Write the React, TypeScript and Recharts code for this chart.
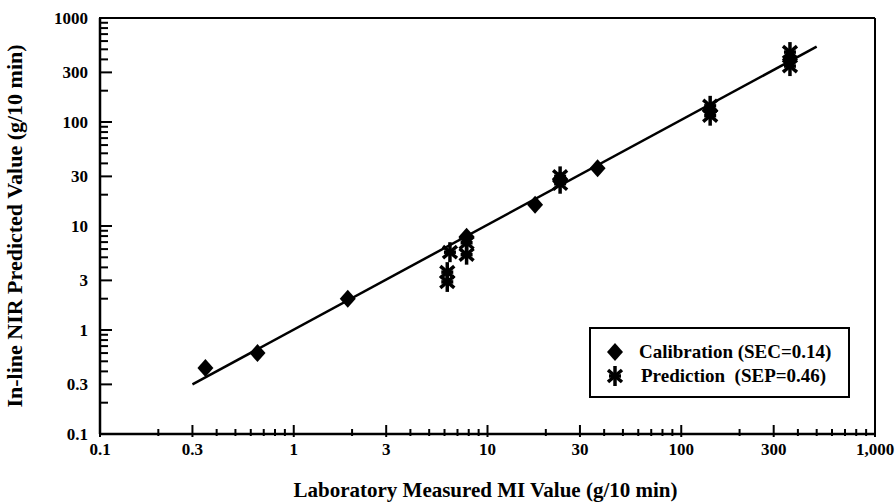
import React from "react"
import {
  ScatterChart,
  Scatter,
  XAxis,
  YAxis,
  ReferenceLine,
  Legend,
} from "recharts"

// values
const calX = [0.35, 0.65, 1.9, 7.8, 17.6, 23.7, 37, 141, 364]
const calY = [0.43, 0.6, 2.0, 7.9, 16, 28, 36, 128, 400]

const predX = [6.2, 6.2, 6.4, 7.8, 7.8, 23.7, 23.7, 141, 141, 364, 364]
const predY = [3.6, 2.9, 5.6, 6.9, 5.3, 30, 25.5, 143, 115, 470, 345]

const fitX = [0.3, 500]
const fitY = [0.3, 530]

const majorTicks = [0.1, 0.3, 1, 3, 10, 30, 100, 300, 1000]
const xTickLabels = ["0.1", "0.3", "1", "3", "10", "30", "100", "300", "1,000"]
const yTickLabels = ["0.1", "0.3", "1", "3", "10", "30", "100", "300", "1000"]
const decades = [0.1, 1, 10, 100]
const minorSteps = [2, 4, 5, 6, 7, 8, 9]

const allTicks = [...majorTicks, ...decades.flatMap((d) => minorSteps.map((m) => m * d))].sort(
  (a, b) => a - b
)

const calData = calX.map((x, i) => ({ x, y: calY[i] }))
const predData = predX.map((x, i) => ({ x, y: predY[i] }))
const fitData = fitX.map((x, i) => ({ x, y: fitY[i] }))

const FONT = "'Liberation Serif', 'Times New Roman', serif"

const majorIndex = (v: number) => majorTicks.findIndex((t) => Math.abs(t - v) / t < 1e-6)

const XTick = (props: any) => {
  const { x, y, payload } = props
  const idx = majorIndex(payload.value)
  const major = idx >= 0
  return (
    <g>
      <line x1={x} x2={x} y1={y - (major ? 9 : 5)} y2={y + (major ? 3 : 2)} stroke="#000" strokeWidth={2} />
      {major && (
        <text x={x} y={y + 21} textAnchor="middle" fontFamily={FONT} fontWeight="bold" fontSize={17} fill="#000">
          {xTickLabels[idx]}
        </text>
      )}
    </g>
  )
}

const YTick = (props: any) => {
  const { x, y, payload } = props
  const idx = majorIndex(payload.value)
  const major = idx >= 0
  return (
    <g>
      <line x1={x - 1} x2={x + (major ? 12 : 8)} y1={y} y2={y} stroke="#000" strokeWidth={2} />
      {major && (
        <text x={x - 12} y={y + 6} textAnchor="end" fontFamily={FONT} fontWeight="bold" fontSize={17} fill="#000">
          {yTickLabels[idx]}
        </text>
      )}
    </g>
  )
}

const Diamond = (props: any) => {
  const { cx, cy } = props
  return <polygon points={`${cx},${cy - 9} ${cx + 8},${cy} ${cx},${cy + 9} ${cx - 8},${cy}`} fill="#000" />
}

const Star = (props: any) => {
  const { cx, cy } = props
  return (
    <g stroke="#000" strokeWidth={3.5}>
      <line x1={cx} y1={cy - 10} x2={cx} y2={cy + 10} />
      <line x1={cx - 7} y1={cy - 6} x2={cx + 7} y2={cy + 6} />
      <line x1={cx - 7} y1={cy + 6} x2={cx + 7} y2={cy - 6} />
      <line x1={cx - 6} y1={cy} x2={cx + 6} y2={cy} />
    </g>
  )
}

const LegendBox = () => (
  <div
    style={{
      border: "2px solid #000",
      boxSizing: "border-box",
      width: 261,
      height: 71,
      padding: "11px 0 0 16px",
      fontFamily: FONT,
      fontWeight: "bold",
      fontSize: 19,
      background: "#fff",
      lineHeight: "24px",
      whiteSpace: "pre",
    }}
  >
    <div style={{ display: "flex", alignItems: "center" }}>
      <svg width={18} height={20}>
        <Diamond cx={8} cy={10} />
      </svg>
      <span style={{ marginLeft: 14 }}>{"Calibration (SEC=0.14)"}</span>
    </div>
    <div style={{ display: "flex", alignItems: "center" }}>
      <svg width={18} height={22}>
        <Star cx={8} cy={11} />
      </svg>
      <span style={{ marginLeft: 16 }}>{"Prediction  (SEP=0.46)"}</span>
    </div>
  </div>
)

export default function App() {
  return (
    <div style={{ position: "absolute", left: 0, top: 0, width: 896, height: 504, background: "#fff" }}>
      <ScatterChart width={896} height={504} margin={{ top: 18, right: 21, bottom: 0, left: 0 }}>
        <XAxis
          dataKey="x"
          type="number"
          scale="log"
          domain={[0.1, 1000]}
          allowDataOverflow
          ticks={allTicks}
          interval={0}
          height={70}
          tickSize={0}
          tickMargin={0}
          tickLine={false}
          axisLine={{ stroke: "#000", strokeWidth: 2.5 }}
          tick={(p: any) => <XTick {...p} />}
          label={{
            content: (p: any) => {
              const vb = p.viewBox
              return (
                <text
                  x={vb.x + vb.width / 2 - 2}
                  y={vb.y + 63}
                  textAnchor="middle"
                  fontFamily={FONT}
                  fontWeight="bold"
                  fontSize={21}
                  fill="#000"
                >
                  Laboratory Measured MI Value (g/10 min)
                </text>
              )
            },
          }}
        />
        <YAxis
          dataKey="y"
          type="number"
          scale="log"
          domain={[0.1, 1000]}
          allowDataOverflow
          ticks={allTicks}
          interval={0}
          width={100}
          tickSize={0}
          tickMargin={0}
          tickLine={false}
          axisLine={{ stroke: "#000", strokeWidth: 2.5 }}
          tick={(p: any) => <YTick {...p} />}
          label={{
            content: (p: any) => {
              const vb = p.viewBox
              const cx = vb.x + vb.width - 78
              const cy = vb.y + vb.height / 2
              return (
                <text
                  x={cx}
                  y={cy}
                  transform={`rotate(-90, ${cx}, ${cy})`}
                  textAnchor="middle"
                  fontFamily={FONT}
                  fontWeight="bold"
                  fontSize={22}
                  fill="#000"
                >
                  In-line NIR Predicted Value (g/10 min)
                </text>
              )
            },
          }}
        />
        <ReferenceLine y={1000} stroke="#000" strokeWidth={2} />
        <ReferenceLine x={1000} stroke="#000" strokeWidth={2} />
        <Scatter
          name="fit"
          data={fitData}
          line={{ stroke: "#000", strokeWidth: 2.5 }}
          shape={() => <g />}
          legendType="none"
          isAnimationActive={false}
        />
        <Scatter name="Calibration" data={calData} shape={(p: any) => <Diamond {...p} />} isAnimationActive={false} />
        <Scatter name="Prediction" data={predData} shape={(p: any) => <Star {...p} />} isAnimationActive={false} />
        <Legend
          layout="vertical"
          align="center"
          verticalAlign="middle"
          wrapperStyle={{ left: 589, top: 327, width: 261, height: 71 }}
          content={() => <LegendBox />}
        />
      </ScatterChart>
    </div>
  )
}
